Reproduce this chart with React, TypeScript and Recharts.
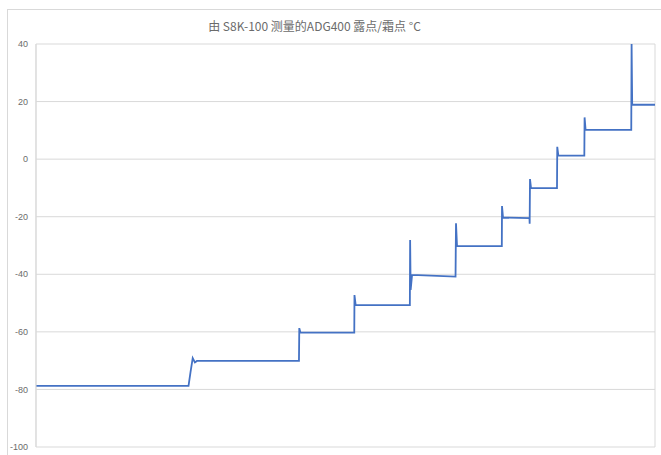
import React from "react";
import { LineChart, Line, XAxis, YAxis, CartesianGrid } from "recharts";

// time (hours, relative) and measured dew/frost point (°C)
const times: number[] = [
  0, 22.94, 23.24, 23.57, 23.9, 24.2, 39.55, 39.6, 39.78, 47.87,
  47.9, 48.08, 56.23, 56.27, 56.35, 56.56, 63.1, 63.17, 63.32, 70.06,
  70.09, 70.24, 74.22, 74.25, 74.3, 74.45, 78.36, 78.4, 78.56, 82.47,
  82.51, 82.66, 89.53, 89.58, 89.67, 93.1,
];
const dewPoint: number[] = [
  -78.8, -78.8, -74, -69.1, -70.6, -70.1, -70.1, -58.7, -60.3, -60.3,
  -47.2, -50.7, -50.7, -28.1, -45.4, -40.2, -40.8, -22.3, -30.2, -30.2,
  -16.3, -20.3, -20.5, -22.4, -6.9, -10.1, -10.1, 4.3, 1.2, 1.2,
  14.5, 10.2, 10.2, 40, 18.9, 18.9,
];
const yTicks: number[] = [-100, -80, -60, -40, -20, 0, 20, 40];
const xTicks: number[] = [0, 20, 40, 60, 80];
const title = "由 S8K-100 测量的ADG400 露点/霜点 °C";

const data = times.map((t, i) => ({ t, v: dewPoint[i] }));

export default function App() {
  return (
    <div
      style={{
        position: "absolute",
        left: 0,
        top: 0,
        width: 661,
        height: 455,
        overflow: "hidden",
        background: "#fff",
      }}
    >
      <div
        style={{
          position: "absolute",
          left: 7,
          top: 9,
          width: 720,
          height: 520,
          border: "1px solid #d9d9d9",
        }}
      />
      <div
        style={{
          position: "absolute",
          left: 0,
          width: 629,
          top: 17,
          textAlign: "center",
          fontFamily: "'Noto Sans CJK SC', 'Liberation Sans', sans-serif",
          fontSize: 12,
          color: "#6b6b6b",
          whiteSpace: "nowrap",
        }}
      >
        {title}
      </div>
      <div style={{ position: "absolute", left: 0, top: 0 }}>
        <LineChart
          width={661}
          height={455}
          data={data}
          margin={{ top: 44, right: 6, bottom: 8, left: 0 }}
        >
          <CartesianGrid stroke="#d9d9d9" strokeWidth={1} />
          <XAxis
            dataKey="t"
            type="number"
            domain={[0, 93.1]}
            ticks={xTicks}
            tick={false}
            tickLine={false}
            height={0}
            axisLine={{ stroke: "#d9d9d9" }}
            allowDataOverflow
          />
          <YAxis
            type="number"
            domain={[-100, 40]}
            ticks={yTicks}
            width={36}
            tickLine={false}
            axisLine={{ stroke: "#d9d9d9" }}
            tick={{ fontSize: 9, fill: "#6b6b6b", fontFamily: "'Liberation Sans', sans-serif" }}
            interval={0}
            allowDataOverflow
          />
          <Line
            type="linear"
            dataKey="v"
            stroke="#4472C4"
            strokeWidth={1.8}
            dot={false}
            isAnimationActive={false}
          />
        </LineChart>
      </div>
    </div>
  );
}
